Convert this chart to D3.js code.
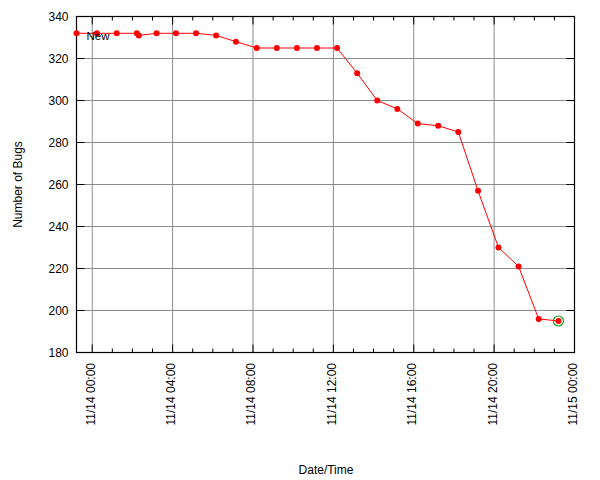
<!DOCTYPE html>
<html>
<head>
<meta charset="utf-8">
<script src="https://cdn.jsdelivr.net/npm/d3@7"></script>
<style>
  body { margin: 0; background: #fff; }
  text { font-family: "Liberation Sans", Arial, sans-serif; font-size: 12px; fill: #000; }
</style>
</head>
<body>
<div id="chart"></div>
<script>
// snapshot times (local) and open bug counts
const times = [
  "2008-11-13 23:13", "2008-11-14 00:14", "2008-11-14 01:13", "2008-11-14 02:13",
  "2008-11-14 02:19", "2008-11-14 03:12", "2008-11-14 04:10", "2008-11-14 05:10",
  "2008-11-14 06:10", "2008-11-14 07:09", "2008-11-14 08:11", "2008-11-14 09:11",
  "2008-11-14 10:11", "2008-11-14 11:11", "2008-11-14 12:11", "2008-11-14 13:11",
  "2008-11-14 14:11", "2008-11-14 15:11", "2008-11-14 16:12", "2008-11-14 17:13",
  "2008-11-14 18:13", "2008-11-14 19:12", "2008-11-14 20:13", "2008-11-14 21:13",
  "2008-11-14 22:13", "2008-11-14 23:12"
];
const newBugs = [332, 332, 332, 332, 331, 332, 332, 332, 331, 328, 325, 325, 325,
                 325, 325, 313, 300, 296, 289, 288, 285, 257, 230, 221, 196, 195];
const yTicks = [180, 200, 220, 240, 260, 280, 300, 320, 340];
const seriesName = "New";

const parse = d3.timeParse("%Y-%m-%d %H:%M");
const data = times.map((t, i) => ({date: parse(t), value: newBugs[i]}));

const W = 600, H = 480;
const margin = {top: 16.5, right: 25.5, bottom: 127.5, left: 76.5};
const width = W - margin.left - margin.right;
const height = H - margin.top - margin.bottom;

const svg = d3.select("#chart").append("svg")
  .attr("width", W).attr("height", H);
const g = svg.append("g").attr("transform", `translate(${margin.left},${margin.top})`);

const x = d3.scaleTime()
  .domain([data[0].date, parse("2008-11-15 00:00")])
  .range([0, width]);
const y = d3.scaleLinear().domain([180, 340]).range([height, 0]);

const majorX = d3.timeHour.every(4).range(parse("2008-11-14 00:00"), parse("2008-11-15 00:01"));
const minorX = d3.timeHour.every(1).range(x.domain()[0], parse("2008-11-15 00:01"));

// grid
g.append("g").selectAll("line").data(majorX).join("line")
  .attr("x1", d => x(d)).attr("x2", d => x(d))
  .attr("y1", 0).attr("y2", height)
  .attr("stroke", "#8c8c8c").attr("stroke-width", 1);
g.append("g").selectAll("line").data(yTicks).join("line")
  .attr("x1", 0).attr("x2", width)
  .attr("y1", d => y(d)).attr("y2", d => y(d))
  .attr("stroke", "#8c8c8c").attr("stroke-width", 1);

// ticks on all four sides
const tk = g.append("g").attr("stroke", "#000").attr("stroke-width", 1);
minorX.forEach(d => {
  const len = majorX.some(m => +m === +d) ? 8 : 4;
  tk.append("line").attr("x1", x(d)).attr("x2", x(d)).attr("y1", height).attr("y2", height - len);
  tk.append("line").attr("x1", x(d)).attr("x2", x(d)).attr("y1", 0).attr("y2", len);
});
yTicks.forEach(d => {
  tk.append("line").attr("x1", 0).attr("x2", 8).attr("y1", y(d)).attr("y2", y(d));
  tk.append("line").attr("x1", width).attr("x2", width - 8).attr("y1", y(d)).attr("y2", y(d));
});

// y labels
g.append("g").selectAll("text").data(yTicks).join("text")
  .attr("x", -8).attr("y", d => y(d)).attr("dy", "0.35em")
  .attr("text-anchor", "end")
  .text(d => d);

// x labels, vertical
const fmt = d3.timeFormat("%m/%d %H:%M");
g.append("g").selectAll("text").data(majorX).join("text")
  .attr("transform", d => `translate(${x(d) + 2.5},${height + 10.5}) rotate(-90)`)
  .attr("text-anchor", "end")
  .text(d => fmt(d));

// frame
g.append("rect").attr("width", width).attr("height", height)
  .attr("fill", "none").attr("stroke", "#000").attr("stroke-width", 1.2);

// axis titles
svg.append("text").attr("x", 326).attr("y", 474).attr("text-anchor", "middle").text("Date/Time");
svg.append("text")
  .attr("transform", `translate(22,${margin.top + height / 2}) rotate(-90)`)
  .attr("text-anchor", "middle").text("Number of Bugs");

// series
const line = d3.line().x(d => x(d.date)).y(d => y(d.value));
g.append("path").datum(data)
  .attr("d", line).attr("fill", "none")
  .attr("stroke", "#ff0000").attr("stroke-width", 1);
g.append("g").selectAll("circle").data(data).join("circle")
  .attr("cx", d => x(d.date)).attr("cy", d => y(d.value))
  .attr("r", 3).attr("fill", "#ff0000");

// highlight latest point
const last = data[data.length - 1];
g.append("circle")
  .attr("cx", x(last.date)).attr("cy", y(last.value))
  .attr("r", 5).attr("fill", "none")
  .attr("stroke", "#1a9a1a").attr("stroke-width", 1.2);

// legend
g.append("text").attr("x", 10).attr("y", 23).style("font-size", "11.5px").text(seriesName);
</script>
</body>
</html>
